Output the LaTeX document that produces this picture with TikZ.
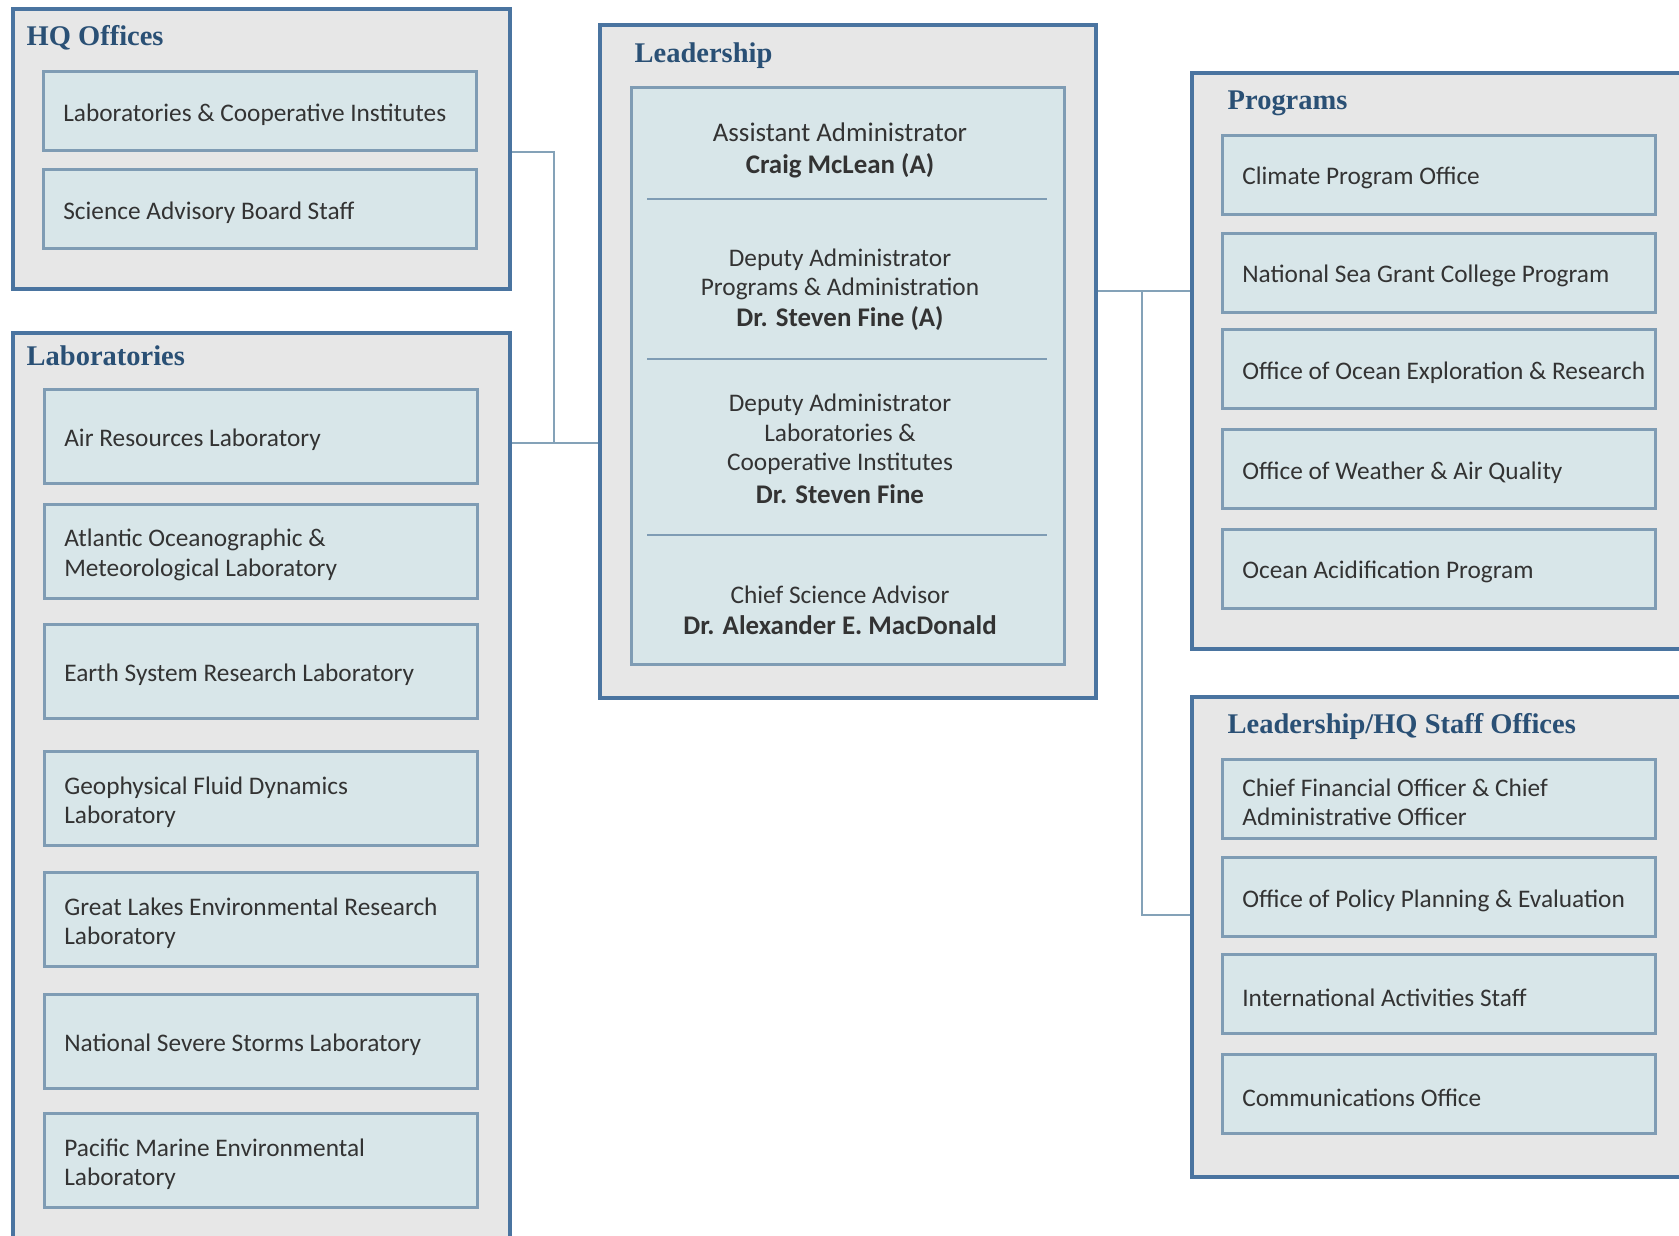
\documentclass[tikz,border=0pt]{standalone}
\usepackage{fontspec}
\setmainfont{Carlito}
\newfontfamily\headfont{Liberation Serif}
\usepackage{xcolor}
\usetikzlibrary{backgrounds}

\definecolor{outerline}{HTML}{4A74A0}
\definecolor{outerfill}{HTML}{E7E7E7}
\definecolor{innerline}{HTML}{7F9CB4}
\definecolor{innerfill}{HTML}{D8E6E9}
\definecolor{linkcol}{HTML}{84A2B8}
\definecolor{titlecol}{HTML}{2A5075}
\definecolor{textcol}{HTML}{333333}

\newcommand{\bodyfont}{\fontsize{7.2}{8.3}\selectfont}
\newcommand{\namefont}{\fontsize{7.65}{8.3}\selectfont\bfseries}
\newcommand{\rolefont}{\fontsize{7.65}{8.3}\selectfont}

\begin{document}
\begin{tikzpicture}[x=0.01cm, y=-0.01cm,
  outerbox/.style={draw=outerline, fill=outerfill, line width=1.1pt, anchor=north west, inner sep=0pt},
  innerbox/.style={draw=innerline, fill=innerfill, line width=0.75pt, anchor=north west,
    minimum width=4.33cm, minimum height=0.79cm, text width=3.93cm, inner xsep=0.2cm,
    align=flush left, text=textcol, font=\bodyfont, execute at begin node={\rule{0pt}{7pt}}},
  grouptitle/.style={anchor=base west, inner sep=0pt, text=titlecol, font=\headfont\bfseries\fontsize{8.1}{10}\selectfont},
  leadtext/.style={align=center, text=textcol, font=\bodyfont, inner sep=0pt},
  link/.style={draw=linkcol, line width=0.6pt}]

  \useasboundingbox (0,0) rectangle (1679,1235);
  \clip (0,0) rectangle (1679,1235);

  % Group boxes
  \node[outerbox, minimum width=4.97cm, minimum height=2.80cm] (hq) at (11,7) {};
  \node[outerbox, minimum width=4.97cm, minimum height=9.19cm] (lab) at (11,331) {};
  \node[outerbox, minimum width=4.96cm, minimum height=6.73cm] (lead) at (598,23) {};
  \node[outerbox, minimum width=5.10cm, minimum height=5.76cm] (prog) at (1190,71) {};
  \node[outerbox, minimum width=5.10cm, minimum height=4.80cm] (staff) at (1190,695) {};

  % Group titles
  \node[grouptitle] (hqtitle) at (26,45) {HQ Offices};
  \node[grouptitle] (labtitle) at (26,365) {Laboratories};
  \node[grouptitle] (leadtitle) at (634,62) {Leadership};
  \node[grouptitle] (progtitle) at (1227,109) {Programs};
  \node[grouptitle] (stafftitle) at (1227,733) {Leadership/HQ Staff Offices};

  % HQ offices
  \foreach \i/\y/\txt in {1/70/{Laboratories \& Cooperative Institutes},
                          2/168/{Science Advisory Board Staff}} {
    \node[innerbox] (hq\i) at (42,\y) {\txt};
  }

  % Laboratories
  \foreach \i/\y/\txt in {1/388/{Air Resources Laboratory},
                          2/503/{Atlantic Oceanographic \&\\Meteorological Laboratory},
                          3/623/{Earth System Research Laboratory},
                          4/750/{Geophysical Fluid Dynamics\\Laboratory},
                          5/871/{Great Lakes Environmental Research\\Laboratory},
                          6/993/{National Severe Storms Laboratory},
                          7/1112/{Pacific Marine Environmental\\Laboratory}} {
    \node[innerbox, minimum height=0.94cm] (lab\i) at (43,\y) {\txt};
  }

  % Programs
  \foreach \i/\y/\txt in {1/134/{Climate Program Office},
                          2/232/{National Sea Grant College Program},
                          3/328/{\mbox{Office of Ocean Exploration \& Research}},
                          4/428/{Office of Weather \& Air Quality},
                          5/528/{Ocean Acidification Program}} {
    \node[innerbox] (prog\i) at (1221,\y) {\txt};
  }

  % Staff offices
  \foreach \i/\y/\txt in {1/758/{Chief Financial Officer \& Chief\\Administrative Officer},
                          2/856/{\mbox{Office of Policy Planning \& Evaluation}},
                          3/953/{International Activities Staff},
                          4/1053/{Communications Office}} {
    \node[innerbox] (staff\i) at (1221,\y) {\txt};
  }

  % Leadership panel
  \node[innerbox, minimum height=5.77cm, text width=4.33cm, inner xsep=0pt] (leadin) at (630,86) {};
  \foreach \y in {199,359,535} {
    \draw[innerline, line width=0.75pt] (647,\y) -- (1047,\y);
  }
  \node[leadtext] (ld1) at (840,150) {{\rolefont Assistant Administrator}\\[0.8pt]{\namefont Craig McLean (A)}};
  \node[leadtext] (ld2) at (840,290) {Deputy Administrator\\Programs \& Administration\\[0.5pt]{\namefont Dr. Steven Fine (A)}};
  \node[leadtext] (ld3) at (840,449) {Deputy Administrator\\Laboratories \&\\Cooperative Institutes\\[1.1pt]{\namefont Dr. Steven Fine}};
  \node[leadtext] (ld4) at (840,610) {Chief Science Advisor\\[0.5pt]{\namefont Dr. Alexander E. MacDonald}};

  % Connectors
  \coordinate (hqout) at (554,152);
  \coordinate (hqjoin) at (554,443);
  \coordinate (progjoin) at (1142,291);
  \coordinate (staffjoin) at (1142,915);
  \begin{pgfonlayer}{background}
    \fill[white] (0,0) rectangle (1679,1235);
    \draw[link] (hq.east |- hqout) -- (hqout) -- (hqjoin);
    \draw[link] (lab.east |- hqjoin) -- (lead.west |- hqjoin);
    \draw[link] (lead.east |- progjoin) -- (prog.west |- progjoin);
    \draw[link] (progjoin) -- (staffjoin) -- (staff.west |- staffjoin);
  \end{pgfonlayer}
\end{tikzpicture}
\end{document}
